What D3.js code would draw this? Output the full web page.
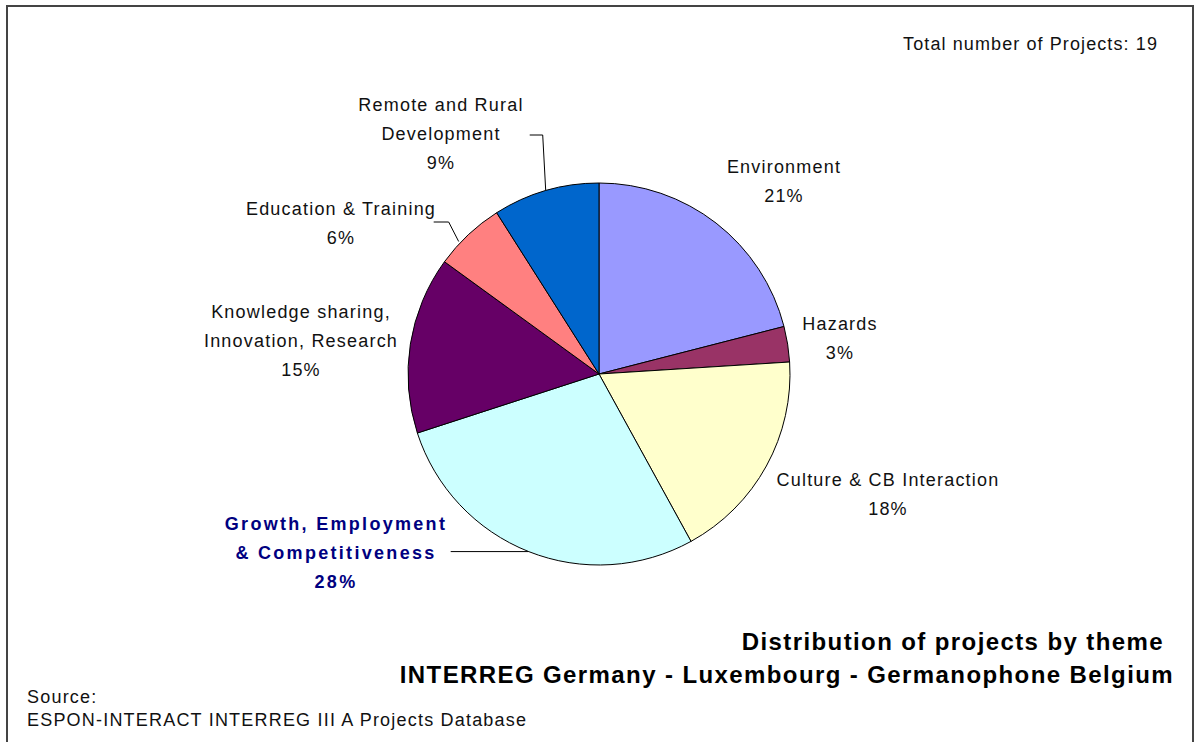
<!DOCTYPE html>
<html><head><meta charset="utf-8">
<script src="https://cdn.jsdelivr.net/npm/d3@7"></script>
<style>html,body{margin:0;padding:0;background:#fff;}svg{display:block;}</style>
</head><body>
<svg id="chart" width="1195" height="742"></svg>
<script>
// ---- data ----
const categories = ["Environment", "Hazards", "Culture & CB Interaction", "Growth, Employment & Competitiveness", "Knowledge sharing, Innovation, Research", "Education & Training", "Remote and Rural Development"];
const values = [21, 3, 18, 28, 15, 6, 9];
const labelLines = [
  ["Environment"],
  ["Hazards"],
  ["Culture & CB Interaction"],
  ["Growth, Employment", "& Competitiveness"],
  ["Knowledge sharing,", "Innovation, Research"],
  ["Education & Training"],
  ["Remote and Rural", "Development"]
];
const colors = ["#9999FF", "#993366", "#FFFFCC", "#CCFFFF", "#660066", "#FF8080", "#0066CC"];
const totalProjects = 19;
const titleLines = ["Distribution of projects by theme", "INTERREG Germany - Luxembourg - Germanophone Belgium"];
const sourceLines = ["Source:", "ESPON-INTERACT INTERREG III A Projects Database"];

// ---- layout ----
const W = 1195, H = 742;
const cx = 599, cy = 374, R = 191;
const font = "'Liberation Sans', Arial, Helvetica, sans-serif";
// label block centre offsets from pie centre (layout only)
const labelOffsets = [[185, -192.5], [241, -36], [289, 120], [-263, 179], [-298, -33], [-258, -151], [-158, -240]];
const lineH = 29;
const highlight = 3;

const svg = d3.select("#chart");
svg.append("rect").attr("x", 7).attr("y", 6).attr("width", 1186).attr("height", 780)
  .attr("fill", "#fff").attr("stroke", "#444").attr("stroke-width", 2);

const pie = d3.pie().sort(null).value(d => d)(values);
const arc = d3.arc().innerRadius(0).outerRadius(R);
const g = svg.append("g").attr("transform", `translate(${cx},${cy})`);
g.selectAll("path").data(pie).join("path")
  .attr("d", arc).attr("fill", (d, i) => colors[i])
  .attr("stroke", "#000").attr("stroke-width", 1);

const pct = v => Math.round(v) + "%";
const pt = (a, r) => [Math.sin(a) * r, -Math.cos(a) * r];

// leader lines
const mid = d => (d.startAngle + d.endAngle) / 2;
function leader(pts) {
  g.append("path").attr("d", d3.line()(pts)).attr("fill", "none").attr("stroke", "#000").attr("stroke-width", 1);
}
{ // Remote and Rural
  const p = pt(mid(pie[6]), R);
  const o = labelOffsets[6];
  leader([p, [p[0] - 3, o[1] + 1], [p[0] - 16, o[1] + 1]]);
}
{ // Education
  const p = pt(mid(pie[5]) - 0.06, R + 2);
  const o = labelOffsets[5];
  leader([p, [p[0] - 10, o[1] - 1], [p[0] - 25, o[1] - 1]]);
}
{ // Growth
  const p = pt(mid(pie[3]), R);
  leader([p, [p[0] - 78, p[1]]]);
}

// labels
pie.forEach((d, i) => {
  const lines = labelLines[i].concat([pct(values[i])]);
  const o = labelOffsets[i];
  const n = lines.length;
  const hl = i === highlight;
  const t = g.append("text").attr("text-anchor", "middle")
    .attr("font-family", font)
    .attr("font-size", 18)
    .attr("letter-spacing", hl ? 2.3 : 1.2)
    .attr("font-weight", hl ? "bold" : "normal")
    .attr("fill", hl ? "#000080" : "#111");
  lines.forEach((l, k) => {
    t.append("tspan").attr("x", o[0]).attr("y", o[1] + (k - (n - 1) / 2) * lineH + 6).text(l);
  });
});

svg.append("text").attr("x", 1158).attr("y", 50).attr("text-anchor", "end")
  .attr("font-family", font).attr("font-size", 18).attr("letter-spacing", 1.1).attr("fill", "#111")
  .text("Total number of Projects: " + totalProjects);

const titleRight = [1164, 1174];
const tt = svg.append("text").attr("text-anchor", "end").attr("font-family", font)
  .attr("font-weight", "bold").attr("font-size", 24).attr("letter-spacing", 1.4).attr("fill", "#000");
titleLines.forEach((l, k) => tt.append("tspan").attr("x", titleRight[k]).attr("y", 650 + k * 33).text(l));

const st = svg.append("text").attr("font-family", font).attr("font-size", 18).attr("letter-spacing", 1.2).attr("fill", "#111");
sourceLines.forEach((l, k) => st.append("tspan").attr("x", 27).attr("y", 703 + k * 23).text(l));
</script>
</body></html>
